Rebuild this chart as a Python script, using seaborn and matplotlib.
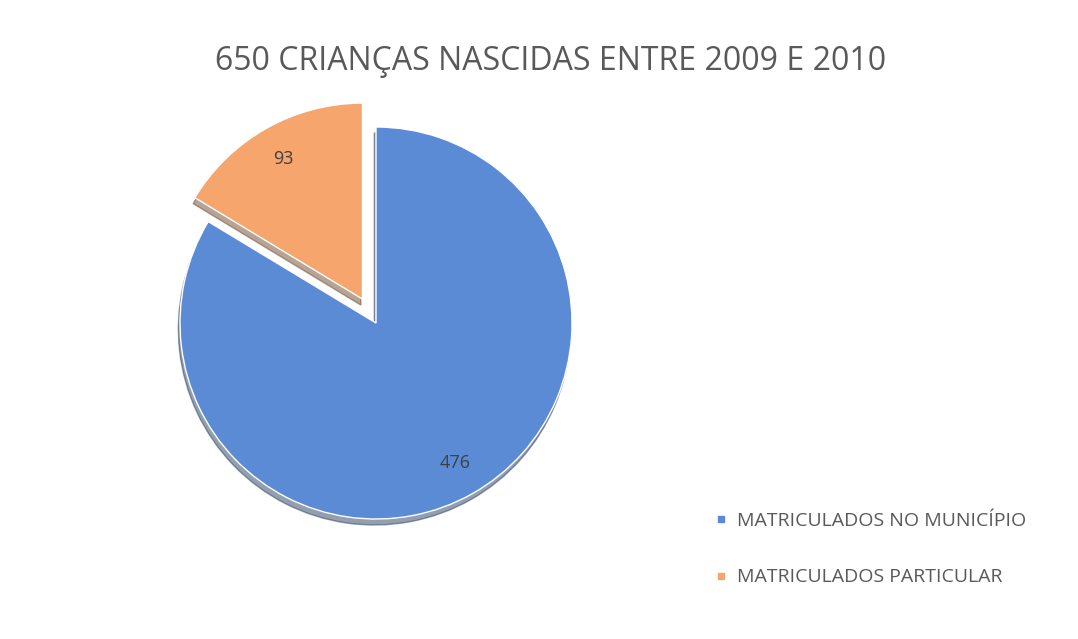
import matplotlib
matplotlib.use("Agg")
import matplotlib.pyplot as plt
from matplotlib.lines import Line2D
import seaborn as sns

# data
categories = ["MATRICULADOS PARTICULAR", "MATRICULADOS NO MUNICÍPIO"]
values = [93, 476]
colors = ["#f6a56c", "#5b8bd5"]
title = "650 CRIANÇAS NASCIDAS ENTRE 2009 E 2010"

sns.set_theme(style="white")
plt.rcParams["font.family"] = ["Open Sans", "DejaVu Sans"]

fig = plt.figure(figsize=(10.78, 6.39), dpi=100)
fig.patch.set_facecolor("white")

# pie axes centred at about (376, 323) px, radius ~196 px
ax = fig.add_axes([(376 - 196) / 1078, (639 - 323 - 196) / 639, 392 / 1078, 392 / 639])
total = sum(values)
wedges, texts, autotexts = ax.pie(
    values,
    colors=colors,
    startangle=90,
    counterclock=True,
    explode=[0.14, 0],
    autopct=lambda p: f"{round(p * total / 100)}",
    pctdistance=0.82,
    shadow={"ox": -0.006, "oy": -0.022, "shade": 0.55},
    radius=1,
    textprops={"color": "#404040", "fontsize": 13},
)
ax.set_xlim(-1, 1)
ax.set_ylim(-1, 1)
ax.set_aspect("equal")
ax.axis("off")

fig.text(551 / 1078, 1 - 62 / 639, title, ha="center", va="center",
         fontsize=23, color="#595959")

# legend, municipal first as in the original
handles = [
    Line2D([], [], marker="s", linestyle="none", markersize=5,
           markerfacecolor=colors[1], markeredgecolor=colors[1]),
    Line2D([], [], marker="s", linestyle="none", markersize=5,
           markerfacecolor=colors[0], markeredgecolor=colors[0]),
]
leg = fig.legend(handles, [categories[1], categories[0]],
                 loc="center left", bbox_to_anchor=(698 / 1078, 1 - 549 / 639),
                 frameon=False, fontsize=14, labelspacing=2.0,
                 handlelength=0.6, handletextpad=0.5)
for t in leg.get_texts():
    t.set_color("#595959")

fig.savefig("out.png", dpi=100, facecolor="white")
